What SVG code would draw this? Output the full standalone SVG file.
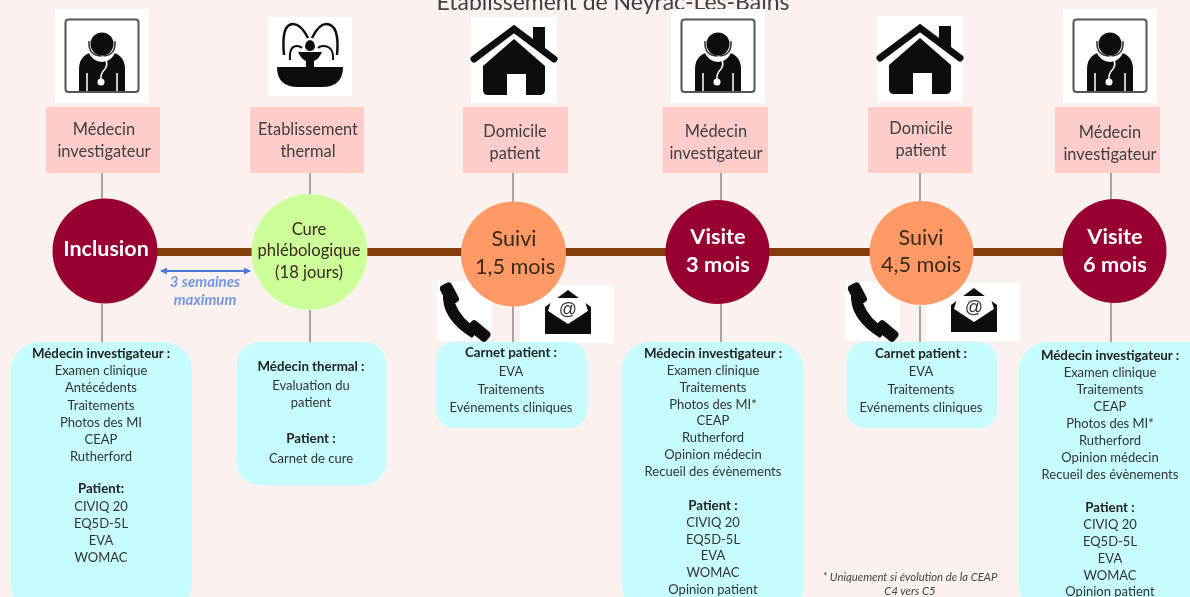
<svg xmlns="http://www.w3.org/2000/svg" xmlns:xlink="http://www.w3.org/1999/xlink" width="1190" height="597" viewBox="0 0 1190 597">
<style>
text{font-family:"Lato","Open Sans","Liberation Sans",sans-serif;text-anchor:middle}
.p{fill:#ffcccc}.b{fill:#c6fcfc}
.pt{font-size:16.4px;fill:#404040}
.bt{font-size:13px;fill:#333}
.bh{font-size:13.3px;fill:#222;font-weight:700}
.cw{fill:#fff;font-weight:700;font-size:21.8px}
.cd{fill:#3a2a1a;font-size:21.6px}
.cs{fill:#3a2a1a;font-size:16.6px}
.dl{font-size:15px;font-style:italic;font-weight:700;fill:#7396e0}
.fn{font-size:11.3px;font-style:italic;fill:#444}
.stem{stroke:#8c8c8c;stroke-width:1.5;fill:none}
.time{stroke:#843c0c;stroke-width:8}
</style>
<defs>
<filter id="soft" x="0" y="0" width="100%" height="100%"><feGaussianBlur stdDeviation="0.6"/></filter>
<marker id="ah" viewBox="0 0 8 8" refX="7" refY="4" markerWidth="7" markerHeight="7" markerUnits="userSpaceOnUse" orient="auto-start-reverse"><path d="M0 0L8 4L0 8Z" fill="#4a78d6"/></marker>
<symbol id="doctor" overflow="visible">
<rect width="94" height="94" fill="#fff"/>
<rect x="10.500" y="10.500" width="73" height="72.500" rx="3" fill="none" stroke="#555" stroke-width="2"/>
<path d="M24 82V60Q24 47 37 43H57Q70 47 70 60V82Z" fill="#111"/>
<path d="M32 64V82M62 64V82" stroke="#fff" stroke-width="1.500"/>
<ellipse cx="47" cy="38" rx="14" ry="15" fill="#fff"/>
<circle cx="47" cy="35" r="11.500" fill="#111"/>
<path d="M34 32Q33 47 47 47Q61 47 60 32" fill="none" stroke="#333" stroke-width="1.500"/>
<path d="M47 47Q55 53 50 60Q45 65 46 71" fill="none" stroke="#fff" stroke-width="1.500"/>
<circle cx="46" cy="73" r="3.500" fill="#fff"/>
</symbol>
<symbol id="fountain" overflow="visible">
<rect width="84" height="79" fill="#fff"/>
<path d="M9 50H75Q75 70 54 70H30Q9 70 9 50Z" fill="#111"/>
<path d="M30 35H54Q51 42 46 44V51H38V44Q33 42 30 35Z" fill="#111"/>
<path d="M37 30Q37 24 42 23Q47 24 47 30Q46 34 42 34Q38 34 37 30Z" fill="#111"/>
<path d="M16 38Q13 7 25 7Q33 7 40 21" fill="none" stroke="#111" stroke-width="2.500"/>
<path d="M69 38Q72 7 58 7Q51 7 44 21" fill="none" stroke="#111" stroke-width="2.500"/>
<path d="M22 43Q21 29 29 29Q32 29 34 31" fill="none" stroke="#111" stroke-width="2"/>
<path d="M65 43Q66 29 55 29Q52 29 50 31" fill="none" stroke="#111" stroke-width="2"/>
</symbol>
<symbol id="house" overflow="visible">
<rect width="86" height="86" fill="#fff"/>
<path d="M62 10H74V34L62 24Z" fill="#111"/>
<path d="M3 42L43 12L83 42" fill="none" stroke="#111" stroke-width="7" stroke-linejoin="miter" stroke-linecap="round"/>
<path d="M12 49L43 22L74 49V73Q74 78 69 78H55V57H36V78H17Q12 78 12 73Z" fill="#111"/>
</symbol>
<symbol id="phone" overflow="visible">
<rect width="55" height="60" fill="#fff"/>
<path d="M6 12Q4 38 35 57L42 49Q24 38 18 22Z" fill="#111"/>
<rect x="6" y="2" width="13" height="22" rx="4" transform="rotate(-28 12 13)" fill="#111"/>
<rect x="30" y="44" width="24" height="12" rx="4" transform="rotate(40 42 50)" fill="#111"/>
</symbol>
<symbol id="mail" overflow="visible">
<rect width="94" height="58" fill="#fff"/>
<path d="M25 22L48 5L71 22V49H25Z" fill="#111"/>
<path d="M32 13H64L68 26L48 39L28 26Z" fill="#fff"/>
<path d="M25 24L48 40L71 24V49H25Z" fill="#111"/>
<text x="48" y="30" style="font-size:18px;fill:#333;font-family:'Liberation Sans',sans-serif">@</text>
</symbol>
</defs>
<rect width="1190" height="597" fill="#fbf1ee"/>
<g filter="url(#soft)">
<text id="title" x="613" y="10" style="font-size:23px;fill:#404040">Etablissement de Neyrac-Les-Bains</text>
<g id="connectors">
<path class="time" d="M150 252H1070"/>
<path class="stem" d="M102 173V200M102 304V345M310 173V195M310 310V345M513 173V203M513 306V345M721 173V201M721 304V345M920 173V203M920 306V345M1111 173V200M1111 303V345"/>
<path d="M161 271H250" stroke="#4a78d6" stroke-width="2" marker-start="url(#ah)" marker-end="url(#ah)" fill="none"/>
</g>
<g id="delay"><text class="dl" x="205" y="287">3 semaines</text><text class="dl" x="205" y="305">maximum</text></g>
<g id="n1">
<use xlink:href="#doctor" href="#doctor" x="55" y="9"/>
<rect class="p" x="46" y="107" width="114" height="66"/>
<text class="pt" x="104" y="135">Médecin</text><text class="pt" x="104" y="157">investigateur</text>
<circle cx="105" cy="251" r="52.500" fill="#990033"/>
<text class="cw" x="106" y="256" style="font-size:21.500px">Inclusion</text>
<rect class="b" x="11" y="342" width="181" height="270" rx="28"/>
<text class="bh" x="101" y="358">Médecin investigateur :</text>
<text class="bt" x="101" y="375">Examen clinique</text><text class="bt" x="101" y="392">Antécédents</text><text class="bt" x="101" y="410">Traitements</text><text class="bt" x="101" y="427">Photos des MI</text><text class="bt" x="101" y="444">CEAP</text><text class="bt" x="101" y="461">Rutherford</text>
<text class="bh" x="101" y="493">Patient:</text>
<text class="bt" x="101" y="511">CIVIQ 20</text><text class="bt" x="101" y="528">EQ5D-5L</text><text class="bt" x="101" y="545">EVA</text><text class="bt" x="101" y="562">WOMAC</text>
</g>
<g id="n2">
<use xlink:href="#fountain" href="#fountain" x="268" y="17"/>
<rect class="p" x="250" y="107" width="114" height="66"/>
<text class="pt" x="308" y="135">Etablissement</text><text class="pt" x="308" y="157">thermal</text>
<circle cx="309.500" cy="252" r="58" fill="#ccff99"/>
<text class="cs" x="309" y="235">Cure</text><text class="cs" x="309" y="256">phlébologique</text><text class="cs" x="309" y="278">(18 jours)</text>
<rect class="b" x="237" y="342" width="149" height="143" rx="22"/>
<text class="bh" x="311" y="371">Médecin thermal :</text>
<text class="bt" x="311" y="390">Evaluation du</text><text class="bt" x="311" y="407">patient</text>
<text class="bh" x="311" y="443">Patient :</text>
<text class="bt" x="311" y="463">Carnet de cure</text>
</g>
<g id="n3">
<use xlink:href="#house" href="#house" x="471" y="17"/>
<rect class="p" x="463" y="107" width="105" height="66"/>
<text class="pt" x="515" y="137">Domicile</text><text class="pt" x="515" y="159">patient</text>
<use xlink:href="#phone" href="#phone" x="437" y="281"/>
<use xlink:href="#mail" href="#mail" x="520" y="285"/>
<circle cx="513.500" cy="254" r="52.500" fill="#ff9966"/>
<text class="cd" x="514" y="246">Suivi</text><text class="cd" x="515" y="274">1,5 mois</text>
<rect class="b" x="436" y="342" width="151" height="86" rx="18"/>
<text class="bh" x="511" y="357">Carnet patient :</text>
<text class="bt" x="511" y="376">EVA</text><text class="bt" x="511" y="394">Traitements</text><text class="bt" x="511" y="412">Evénements cliniques</text>
</g>
<g id="n4">
<use xlink:href="#doctor" href="#doctor" x="671" y="9"/>
<rect class="p" x="662.500" y="107" width="105.500" height="66"/>
<text class="pt" x="716" y="137">Médecin</text><text class="pt" x="716" y="159">investigateur</text>
<circle cx="717.500" cy="252" r="52" fill="#990033"/>
<text class="cw" x="718" y="244">Visite</text><text class="cw" x="718" y="272">3 mois</text>
<rect class="b" x="622" y="342" width="182" height="270" rx="28"/>
<text class="bh" x="713" y="358">Médecin investigateur :</text>
<text class="bt" x="713" y="375">Examen clinique</text><text class="bt" x="713" y="392">Traitements</text><text class="bt" x="713" y="409">Photos des MI*</text><text class="bt" x="713" y="425">CEAP</text><text class="bt" x="713" y="442">Rutherford</text><text class="bt" x="713" y="459">Opinion médecin</text><text class="bt" x="713" y="476">Recueil des évènements</text>
<text class="bh" x="713" y="510">Patient :</text>
<text class="bt" x="713" y="527">CIVIQ 20</text><text class="bt" x="713" y="544">EQ5D-5L</text><text class="bt" x="713" y="560">EVA</text><text class="bt" x="713" y="577">WOMAC</text><text class="bt" x="713" y="594">Opinion patient</text>
</g>
<g id="n5">
<use xlink:href="#house" href="#house" x="877" y="16"/>
<rect class="p" x="868" y="107" width="104.500" height="66"/>
<text class="pt" x="921" y="134">Domicile</text><text class="pt" x="921" y="156">patient</text>
<use xlink:href="#phone" href="#phone" x="845" y="281"/>
<use xlink:href="#mail" href="#mail" x="926" y="283"/>
<circle cx="921.500" cy="253" r="52" fill="#ff9966"/>
<text class="cd" x="921" y="245">Suivi</text><text class="cd" x="921" y="272">4,5 mois</text>
<rect class="b" x="847" y="342" width="150" height="86" rx="18"/>
<text class="bh" x="921" y="358">Carnet patient :</text>
<text class="bt" x="921" y="376">EVA</text><text class="bt" x="921" y="394">Traitements</text><text class="bt" x="921" y="412">Evénements cliniques</text>
</g>
<g id="n6">
<use xlink:href="#doctor" href="#doctor" x="1063" y="9"/>
<rect class="p" x="1055" y="107" width="105" height="66"/>
<text class="pt" x="1110" y="138">Médecin</text><text class="pt" x="1110" y="160">investigateur</text>
<circle cx="1114.500" cy="251" r="52" fill="#990033"/>
<text class="cw" x="1115" y="244">Visite</text><text class="cw" x="1115" y="272">6 mois</text>
<rect class="b" x="1019" y="342" width="200" height="270" rx="28"/>
<text class="bh" x="1110" y="360">Médecin investigateur :</text>
<text class="bt" x="1110" y="377">Examen clinique</text><text class="bt" x="1110" y="394">Traitements</text><text class="bt" x="1110" y="411">CEAP</text><text class="bt" x="1110" y="428">Photos des MI*</text><text class="bt" x="1110" y="445">Rutherford</text><text class="bt" x="1110" y="462">Opinion médecin</text><text class="bt" x="1110" y="479">Recueil des évènements</text>
<text class="bh" x="1110" y="512">Patient :</text>
<text class="bt" x="1110" y="529">CIVIQ 20</text><text class="bt" x="1110" y="546">EQ5D-5L</text><text class="bt" x="1110" y="563">EVA</text><text class="bt" x="1110" y="580">WOMAC</text><text class="bt" x="1110" y="596">Opinion patient</text>
</g>
<g id="footnote"><text class="fn" x="910" y="581">* Uniquement si évolution de la CEAP</text><text class="fn" x="910" y="595">C4 vers C5</text></g>
</g>
</svg>
